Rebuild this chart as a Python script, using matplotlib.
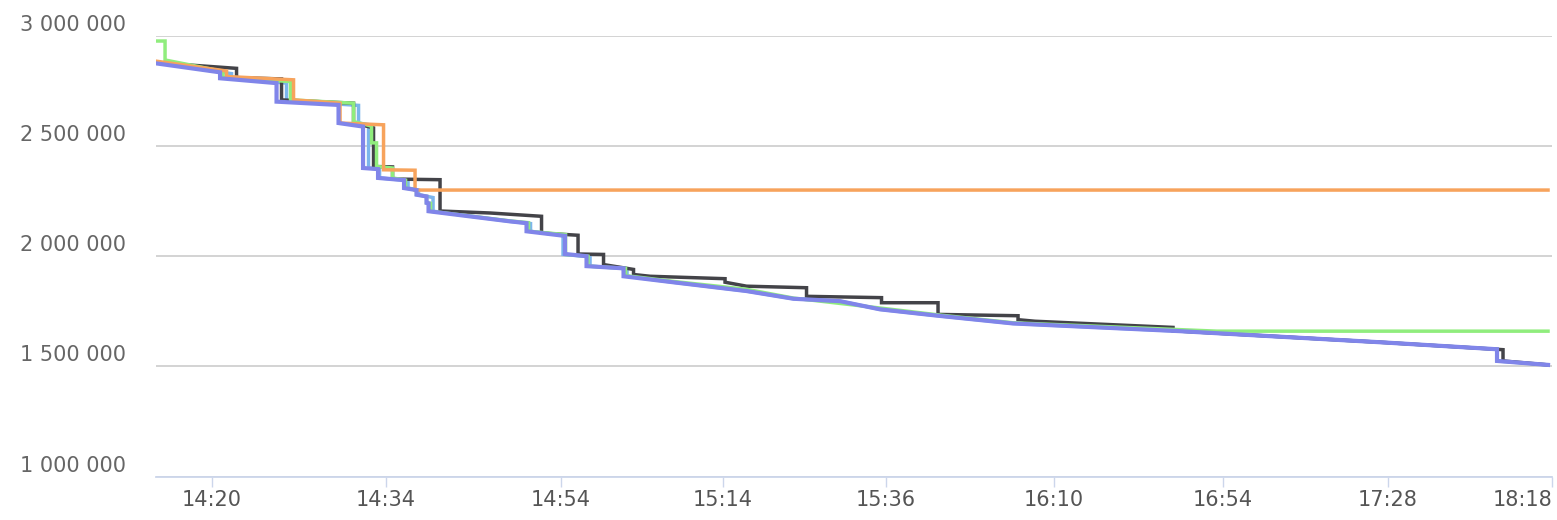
import matplotlib
matplotlib.use("Agg")
import matplotlib.pyplot as plt
import matplotlib.transforms as mtransforms
from matplotlib.ticker import FuncFormatter

# x is an ordinal position (one unit per sample), ticks carry the clock time
tick_pos = [11.3, 46.1, 81.1, 113.5, 146.1, 179.6, 213.5, 246.4, 279.3]
tick_labels = ['14:20', '14:34', '14:54', '15:14', '15:36', '16:10', '16:54', '17:28', '18:18']

blue_x = [0, 15.2, 15.2, 26.2, 26.2, 40.6, 40.6, 42.6, 42.6, 44.8, 44.8, 50.5, 50.5, 52.6, 52.6,
          55.5, 55.5, 70.9, 75, 75, 81.5, 81.5, 86.9, 86.9, 94.3, 94.3, 104.2, 118.2, 127.6, 136.9,
          144.9, 156.5, 171.5, 204.9, 245.5, 268.3, 268.3, 278.5]
blue_y = [2878000, 2828000, 2807000, 2785000, 2705000, 2684000, 2604000, 2597000, 2400000, 2395000,
          2355000, 2343000, 2309000, 2300000, 2279000, 2266000, 2204000, 2158000, 2148000, 2113000,
          2095000, 2008000, 1998000, 1955000, 1943000, 1909000, 1880000, 1842000, 1807000, 1796000,
          1759000, 1730000, 1695000, 1660000, 1609000, 1578000, 1525000, 1507000]

black_x = [0, 16.2, 16.2, 25.2, 25.2, 39.6, 39.6, 43.6, 43.6, 47.4, 47.4, 56.9, 56.9, 66.9, 77.2,
           77.2, 84.5, 84.5, 89.6, 89.6, 95.6, 95.6, 98.9, 113.9, 113.9, 118.2, 130.2, 130.2, 145.2,
           145.2, 156.5, 156.5, 172.5, 172.5, 175.9, 203.5, 203.5, 245.5, 269.5, 269.5, 278.5]
black_y = [2878000, 2852000, 2810000, 2804000, 2709000, 2694000, 2604000, 2582000, 2407000, 2405000,
           2350000, 2347000, 2205000, 2196000, 2181000, 2105000, 2095000, 2010000, 2008000, 1962000,
           1940000, 1917000, 1909000, 1898000, 1882000, 1864000, 1857000, 1818000, 1812000, 1789000,
           1789000, 1736000, 1730000, 1712000, 1705000, 1677000, 1662000, 1609000, 1576000, 1525000,
           1507000]

green_x = [0, 1.9, 1.9, 13.5, 13.5, 27, 27, 39.6, 39.6, 43.2, 43.2, 44.2, 44.2, 47.4, 47.4, 50, 50,
           52.2, 52.2, 54.2, 54.2, 55, 55, 70.9, 74.6, 74.6, 82, 82, 86.5, 86.5, 94, 94, 104.2,
           118.2, 127.6, 144.9, 156.5, 171.5, 212.3, 278.5]
green_y = [2976000, 2976000, 2890000, 2838000, 2812000, 2792000, 2709000, 2694000, 2611000, 2590000,
           2514000, 2514000, 2407000, 2400000, 2355000, 2345000, 2309000, 2300000, 2279000, 2271000,
           2242000, 2240000, 2204000, 2160000, 2152000, 2113000, 2098000, 2008000, 2000000, 1955000,
           1945000, 1912000, 1884000, 1850000, 1810000, 1765000, 1734000, 1698000, 1660000, 1660000]

orange_x = [0, 14.2, 14.2, 27.6, 27.6, 36.9, 36.9, 45.6, 45.6, 51.9, 51.9, 278.5]
orange_y = [2885000, 2840000, 2815000, 2800000, 2709000, 2694000, 2604000, 2596000, 2392000,
            2390000, 2300000, 2300000]

purple_x = [0, 12.9, 12.9, 24.2, 24.2, 36.6, 36.6, 41.5, 41.5, 44.5, 44.5, 49.7, 49.7, 52.2, 52.2,
            54.2, 54.2, 54.6, 54.6, 70.9, 74.2, 74.2, 81.9, 81.9, 86.2, 86.2, 93.6, 93.6, 104.2,
            118.2, 127.6, 136.9, 144.9, 156.5, 171.5, 204.9, 245.5, 268.3, 268.3, 278.5]
purple_y = [2875000, 2834000, 2807000, 2785000, 2701000, 2686000, 2604000, 2588000, 2400000, 2395000,
            2355000, 2345000, 2309000, 2300000, 2279000, 2271000, 2242000, 2240000, 2204000, 2158000,
            2150000, 2113000, 2092000, 2010000, 2000000, 1955000, 1945000, 1909000, 1880000, 1842000,
            1807000, 1796000, 1759000, 1730000, 1695000, 1660000, 1609000, 1578000, 1525000, 1507000]

fig = plt.figure(figsize=(15.57, 5.2), dpi=100)
ax = fig.add_axes([0.0999, 0.0833, 0.8969, 0.848])

lw = 2.5
ax.plot(blue_x, blue_y, color='#7cb5ec', lw=lw, solid_joinstyle='miter')
ax.plot(black_x, black_y, color='#434348', lw=lw, solid_joinstyle='miter')
ax.plot(green_x, green_y, color='#90ed7d', lw=lw, solid_joinstyle='miter')
ax.plot(orange_x, orange_y, color='#f7a35c', lw=lw, solid_joinstyle='miter')
ax.plot(purple_x, purple_y, color='#8085e9', lw=3.0, solid_joinstyle='miter')

ax.set_xlim(0, 279.3)
ax.set_ylim(1000000, 3000000)

ax.set_yticks([1000000, 1500000, 2000000, 2500000, 3000000])
ax.yaxis.set_major_formatter(FuncFormatter(lambda v, p: '{:,.0f}'.format(v).replace(',', ' ')))
ax.grid(axis='y', color='#c8c8c8', lw=1.1)
ax.set_axisbelow(True)
ax.tick_params(axis='y', length=0, pad=21, labelsize=15, labelcolor='#666666')
# labels sit just above their grid line
offset = mtransforms.ScaledTranslation(0, 13 / 100, fig.dpi_scale_trans)
for lbl in ax.get_yticklabels():
    lbl.set_transform(lbl.get_transform() + offset)

ax.set_xticks(tick_pos)
ax.set_xticklabels(tick_labels)
ax.tick_params(axis='x', length=7.5, width=1, color='#ccd6eb', pad=2, labelsize=15,
               labelcolor='#555555')
# last label is pushed inside the plot edge
ax.get_xticklabels()[-1].set_horizontalalignment('right')

for s in ['top', 'right', 'left']:
    ax.spines[s].set_visible(False)
ax.spines['bottom'].set_color('#ccd6eb')
ax.spines['bottom'].set_linewidth(1.3)

plt.savefig('out.png', dpi=100)
